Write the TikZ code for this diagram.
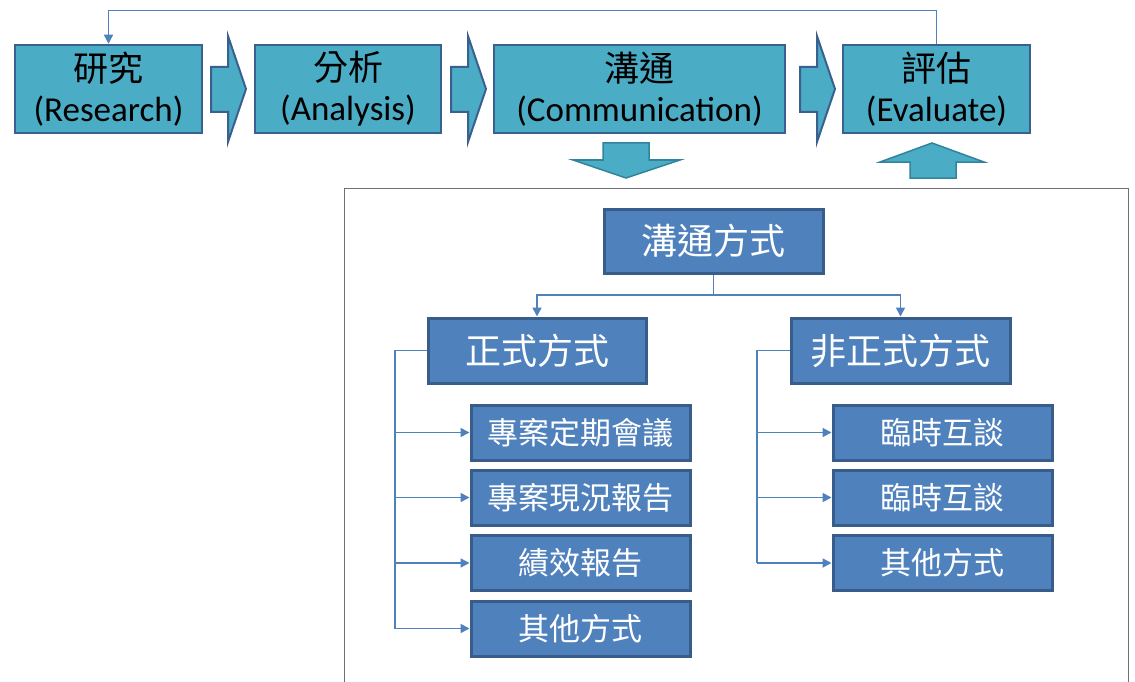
\documentclass[tikz,border=0pt]{standalone}
\usepackage{fontspec}
\setmainfont{Carlito}
\newfontfamily\cjk{Noto Sans CJK TC}
\usetikzlibrary{arrows.meta}
\definecolor{tealfill}{HTML}{4BACC6}
\definecolor{topborder}{HTML}{3A6090}
\definecolor{tealborder}{HTML}{31849B}
\definecolor{bluefill}{HTML}{4F81BD}
\definecolor{blueborder}{HTML}{385D8A}
\definecolor{connblue}{HTML}{4F81BD}
\definecolor{framegray}{HTML}{707070}
\tikzset{
  topbox/.style={draw=topborder, line width=2.5pt, fill=tealfill, minimum height=88pt,
    inner sep=0pt, align=center, text=black, font=\fontsize{35}{40}\selectfont},
  bluebox/.style={draw=blueborder, line width=3pt, fill=bluefill, text=white,
    inner sep=0pt, font=\cjk\fontsize{36}{36}\selectfont},
  childbox/.style={bluebox, minimum width=219pt, minimum height=55pt,
    font=\cjk\fontsize{31}{31}\selectfont},
  conn/.style={draw=connblue, line width=1.8pt},
  tip/.style={-{Triangle[length=9pt,width=9pt]}},
  chevron/.style={fill=tealfill, draw=topborder, line width=2pt, line join=miter},
  blockarrow/.style={fill=tealfill, draw=tealborder, line width=1.5pt}
}
\begin{document}
\begin{tikzpicture}[x=1pt,y=-1pt]
\useasboundingbox (0,0) rectangle (1135,682);
% frame
\draw[framegray, line width=1pt] (344,682) -- (344,188) -- (1128,188) -- (1128,682);
% top process boxes
\node[topbox, minimum width=187pt] (res) at (108.5,89) {{\cjk 研究}\\(Research)};
\node[topbox, minimum width=186pt] (ana) at (348,89) {{\cjk 分析}\\(Analysis)};
\node[topbox, minimum width=291pt] (com) at (639.5,89) {{\cjk 溝通}\\(Communication)};
\node[topbox, minimum width=187pt] (eva) at (936.5,89) {{\cjk 評估}\\(Evaluate)};
% chevrons
\draw[chevron] (211,67) -- (228,67) -- (228,36) -- (246,89) -- (228,142) -- (228,112) -- (211,112) -- cycle;
\draw[chevron] (451,67) -- (468,67) -- (468,36) -- (486,89) -- (468,142) -- (468,112) -- (451,112) -- cycle;
\draw[chevron] (800,67) -- (817,67) -- (817,36) -- (835,89) -- (817,142) -- (817,112) -- (800,112) -- cycle;
% feedback line
\draw[conn, line width=1.5pt, tip] (eva.north) -- ++(0,-33) -| (res.north);
% block arrows
\draw[blockarrow] (603,143) -- (649,143) -- (649,160) -- (680,160) -- (626,178) -- (573,160) -- (603,160) -- cycle;
\draw[blockarrow] (910,178) -- (956,178) -- (956,162) -- (984,162) -- (932,143) -- (880,162) -- (910,162) -- cycle;
% lower tree
\node[bluebox, minimum width=219pt, minimum height=64pt] (m) at (713.5,241) {溝通方式};
\node[bluebox, minimum width=218pt, minimum height=65pt] (f) at (537,350.5) {正式方式};
\node[bluebox, minimum width=219pt, minimum height=65pt] (nf) at (900.5,350.5) {非正式方式};
\node[childbox] (c1) at (580.5,432.5) {專案定期會議};
\node[childbox] (c2) at (580.5,497.5) {專案現況報告};
\node[childbox] (c3) at (580.5,563) {績效報告};
\node[childbox] (c4) at (580.5,628.5) {其他方式};
\node[childbox] (d1) at (942.5,432.5) {臨時互談};
\node[childbox] (d2) at (942.5,497.5) {臨時互談};
\node[childbox] (d3) at (942.5,563) {其他方式};
\coordinate (mj) at (713.5,295);
\coordinate (fl) at (395,350.5);
\coordinate (nl) at (757,350.5);
\draw[conn] (m.south) -- (mj);
\draw[conn, tip] (mj) -| (f.north);
\draw[conn, tip] (mj) -| (nf.north);
\draw[conn] (f.west) -- (fl) -- (fl |- c4.west);
\foreach \c in {c1,c2,c3,c4} \draw[conn, tip] (fl |- \c.west) -- (\c.west);
\draw[conn] (nf.west) -- (nl) -- (nl |- d3.west);
\foreach \c in {d1,d2,d3} \draw[conn, tip] (nl |- \c.west) -- (\c.west);
\end{tikzpicture}
\end{document}
